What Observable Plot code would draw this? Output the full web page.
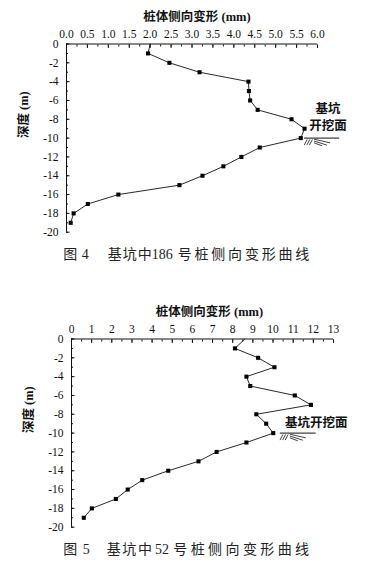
<!DOCTYPE html>
<html>
<head>
<meta charset="utf-8">
<script src="https://cdn.jsdelivr.net/npm/d3@7"></script>
<script src="https://cdn.jsdelivr.net/npm/@observablehq/plot@0.6"></script>
<style>
  html, body { margin: 0; padding: 0; background: #fff; }
  #wrap { position: relative; width: 373px; height: 569px; overflow: hidden; background: #fff; }
  .chart { position: absolute; left: 0; }
  .cap { position: absolute; white-space: nowrap; color: #222; line-height: 14px; font-family: "Liberation Serif", "Noto Sans CJK SC", serif; font-size: 14px; }
  .cap .num { font-size: 13.5px; }
</style>
</head>
<body>
<div id="wrap"></div>
<script>
// ---------- data ----------
const depths = [0, -1, -2, -3, -4, -5, -6, -7, -8, -9, -10, -11, -12, -13, -14, -15, -16, -17, -18, -19];
const pile186 = [2.0, 1.95, 2.46, 3.18, 4.35, 4.36, 4.39, 4.57, 5.38, 5.69, 5.6, 4.62, 4.18, 3.75, 3.25, 2.70, 1.24, 0.51, 0.17, 0.10];
const pile52 = [8.6, 8.11, 9.26, 10.07, 8.68, 8.87, 11.08, 11.88, 9.17, 9.66, 10.01, 8.68, 7.2, 6.3, 4.8, 3.51, 2.79, 2.2, 1.01, 0.61];

const ticks186Major = d3.range(0, 6.001, 0.5);
const ticks186Minor = d3.range(0, 6.001, 0.25);
const ticks52Major = d3.range(0, 13.001, 1);
const ticks52Minor = d3.range(0, 13.001, 0.5);
const depthMajor = d3.range(0, -20.001, -2);
const depthMinor = d3.range(0, -20.001, -1);

const xTitle = "桩体侧向变形 (mm)";
const yTitle = "深度 (m)";
const groundLabels186 = ["基坑", "开挖面"];
const groundLabels52 = ["基坑开挖面"];
const groundDepth = -10;

// ---------- chart builder ----------
const FONT = "'Liberation Serif', 'Noto Sans CJK SC', serif";

function hatchMark(x1, depth) {
  return (index, scales) => {
    const x0 = scales.x(x1), y0 = scales.y(depth);
    const segs = [
      [3.2, 1.8, 0.2, 7.5], [5.8, 1.8, 2.8, 7.5], [8.4, 1.8, 5.4, 7.5],
      [10, 1.6, 26, 5.2], [10, 3.4, 23, 7.6], [10, 5.2, 18, 8.2]
    ];
    const d = segs.map(([a, b, c, e]) => `M${x0 + a},${y0 + b}L${x0 + c},${y0 + e}`).join("");
    const g = d3.create("svg:path")
      .attr("d", d).attr("fill", "none").attr("stroke", "#111").attr("stroke-width", 0.8);
    return g.node();
  };
}

function makeChart(cfg) {
  const rows = depths.map((d, i) => ({depth: d, v: cfg.values[i]}));
  return Plot.plot({
    width: 373,
    height: 240,
    marginTop: 43.5,
    marginBottom: 8.3,
    marginLeft: cfg.marginLeft,
    marginRight: cfg.marginRight,
    x: {domain: cfg.xDomain},
    y: {domain: [-20, 0]},
    style: {fontFamily: FONT, fontSize: "11.5px", color: "#111", background: "transparent", overflow: "visible"},
    marks: [
      Plot.ruleY([0], {stroke: "#111", strokeWidth: 1}),
      Plot.ruleX([cfg.xDomain[0]], {stroke: "#111", strokeWidth: 1}),
      Plot.axisX({anchor: "top", ticks: cfg.minor, tickSize: -2, tickFormat: () => "", label: null}),
      Plot.axisX({anchor: "top", ticks: cfg.major, tickSize: -3.5, tickPadding: 9.5, tickFormat: cfg.fmt, label: null, fontFamily: "Liberation Serif"}),
      Plot.axisY({anchor: "left", ticks: depthMinor, tickSize: -2, tickFormat: () => "", label: null}),
      Plot.axisY({anchor: "left", ticks: depthMajor, tickSize: -3.5, tickPadding: 11.5, tickFormat: d => String(d), label: null, fontFamily: "Liberation Serif"}),
      Plot.text([xTitle], {frameAnchor: "top", dy: -31.5, dx: cfg.titleDx, fontWeight: "bold", fontSize: 12.5, fill: "#111"}),
      Plot.text([yTitle], {frameAnchor: "left", dx: -42.5, rotate: -90, fontWeight: "bold", fontSize: 12.5, fill: "#111"}),
      Plot.line(rows, {x: "v", y: "depth", stroke: "#111", strokeWidth: 0.9}),
      Plot.dot(rows.filter(d => d.depth < 0), {x: "v", y: "depth", symbol: "square", r: 2.3, fill: "#000"}),
      Plot.text(cfg.labels, {x: () => cfg.labelX, y: (d, i) => cfg.labelDepths[i], text: d => d, fontWeight: "bold", fontSize: 12.5, fill: "#111"}),
      Plot.ruleY([groundDepth], {x1: cfg.groundX[0], x2: cfg.groundX[1], stroke: "#111", strokeWidth: 1}),
      hatchMark(cfg.groundX[0], groundDepth)
    ]
  });
}

const wrap = document.getElementById("wrap");

const c1 = makeChart({
  values: pile186, xDomain: [0, 6], major: ticks186Major, minor: ticks186Minor,
  fmt: d => d.toFixed(1), marginLeft: 66, marginRight: 56, titleDx: 5,
  labels: groundLabels186, labelX: 6.25, labelDepths: [-6.9, -8.7], groundX: [5.69, 6.53]
});
c1.classList.add("chart"); c1.style.top = "0px";
wrap.appendChild(c1);

const c2 = makeChart({
  values: pile52, xDomain: [0, 13], major: ticks52Major, minor: ticks52Minor,
  fmt: d => String(d), marginLeft: 71, marginRight: 40, titleDx: 7,
  labels: groundLabels52, labelX: 12.15, labelDepths: [-8.96], groundX: [10.36, 12.14]
});
c2.classList.add("chart"); c2.style.top = "295px";
wrap.appendChild(c2);

// ---------- captions ----------
function caption(top, parts) {
  for (const p of parts) {
    const s = document.createElement("span");
    s.className = "cap" + (p.num ? " num" : "");
    s.textContent = p.t;
    s.style.left = p.x + "px";
    s.style.top = top + "px";
    if (p.ls) s.style.letterSpacing = p.ls + "px";
    wrap.appendChild(s);
  }
}
caption(247.7, [
  {t: "图", x: 63.3}, {t: "4", x: 81.7, num: true},
  {t: "基坑中", x: 107.7, ls: 1}, {t: "186", x: 151.7, num: true},
  {t: "号桩侧向变形曲线", x: 177.7, ls: 2.8}
]);
caption(542.7, [
  {t: "图", x: 63.3}, {t: "5", x: 82.7, num: true},
  {t: "基坑中", x: 106.7, ls: 1.6}, {t: "52", x: 155, num: true},
  {t: "号桩侧向变形曲线", x: 173.3, ls: 3.4}
]);
</script>
</body>
</html>
